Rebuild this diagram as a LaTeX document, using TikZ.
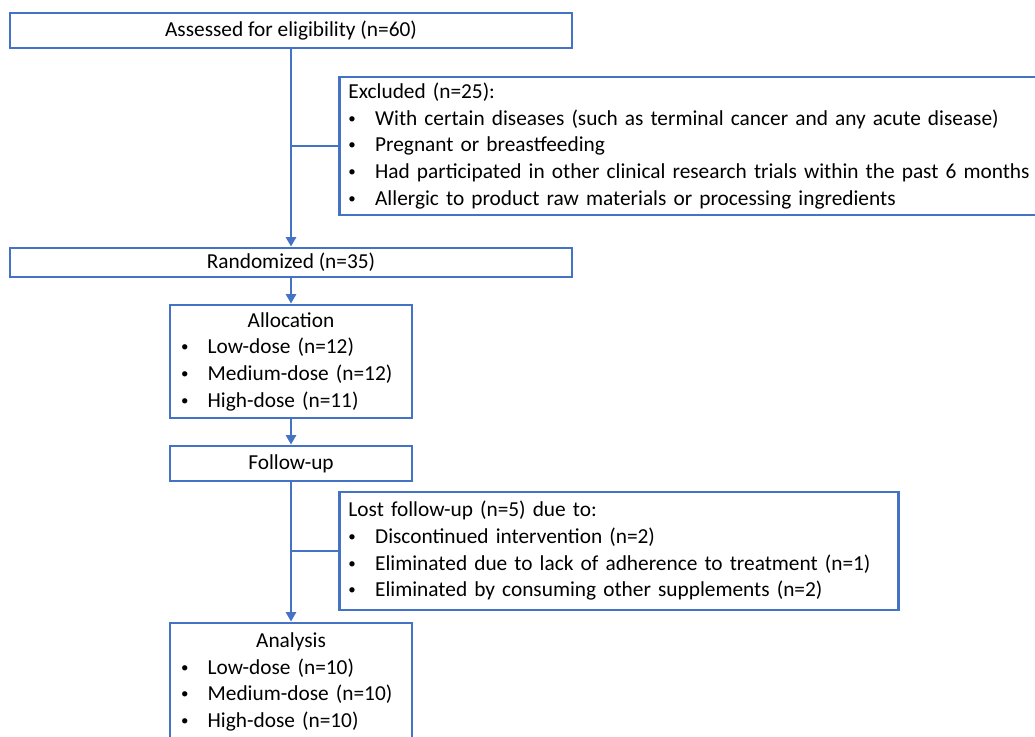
\documentclass[tikz,border=0pt]{standalone}
\usepackage{fontspec}
\setmainfont{Carlito}
\usetikzlibrary{arrows.meta}
\definecolor{boxblue}{HTML}{4472C4}
\newcommand{\bul}{\makebox[20pt][l]{\raisebox{1.5pt}{\scalebox{0.7}{\textbullet}}}}

\begin{document}
\begin{tikzpicture}
[x=0.75pt,y=-0.75pt,
 every node/.style={font=\fontsize{16}{20}\selectfont},
 box/.style={draw=boxblue,line width=2.2pt,fill=white},
 conn/.style={draw=boxblue,line width=2.2pt},
 tip/.style={-{Triangle[length=7pt,width=7.5pt]}}]
\useasboundingbox (0,0) rectangle (1035,736);
\clip (0,0) rectangle (1035,736);

\node[box,minimum width=421.5pt,minimum height=26.25pt] (assess) at (291,30.5) {Assessed for eligibility (n=60)};
\node[box,anchor=west,inner xsep=6.75pt,text width=525pt,minimum height=103.5pt,align=left] (excl) at (338,146)
{Excluded (n=25):\\
\bul With certain diseases (such as terminal cancer and any acute disease)\\
\bul Pregnant or breastfeeding\\
\bul Had participated in other clinical research trials within the past 6 months\\
\bul Allergic to product raw materials or processing ingredients};
\node[box,minimum width=421.5pt,minimum height=21.75pt] (rand) at (291,262.5) {Randomized (n=35)};

\node[box,inner xsep=8.25pt,text width=165pt,minimum height=84.75pt,align=left] (alloc) at (291,361.5)
{\makebox[165pt]{Allocation}\\
\bul Low-dose (n=12)\\
\bul Medium-dose (n=12)\\
\bul High-dose (n=11)};
\node[box,minimum width=181.5pt,minimum height=26.25pt] (follow) at (291,463.5) {Follow-up};
\node[box,anchor=west,inner xsep=6.75pt,text width=405.75pt,minimum height=88.5pt,align=left] (lost) at (338,551)
{Lost follow-up (n=5) due to:\\
\bul Discontinued intervention (n=2)\\
\bul Eliminated due to lack of adherence to treatment (n=1)\\
\bul Eliminated by consuming other supplements (n=2)};
\node[box,inner xsep=8.25pt,text width=165pt,minimum height=88.5pt,align=left] (analysis) at (291,682)
{\makebox[165pt]{Analysis}\\
\bul Low-dose (n=10)\\
\bul Medium-dose (n=10)\\
\bul High-dose (n=10)};

\coordinate (j1) at (assess.south |- excl.west);
\coordinate (j2) at (follow.south |- lost.west);

\foreach \from/\to in {assess/rand,rand/alloc,alloc/follow,follow/analysis}
\draw[conn,tip] (\from) -- (\to);
\draw[conn] (j1) -- (excl.west);
\draw[conn] (j2) -- (lost.west);
\end{tikzpicture}
\end{document}
